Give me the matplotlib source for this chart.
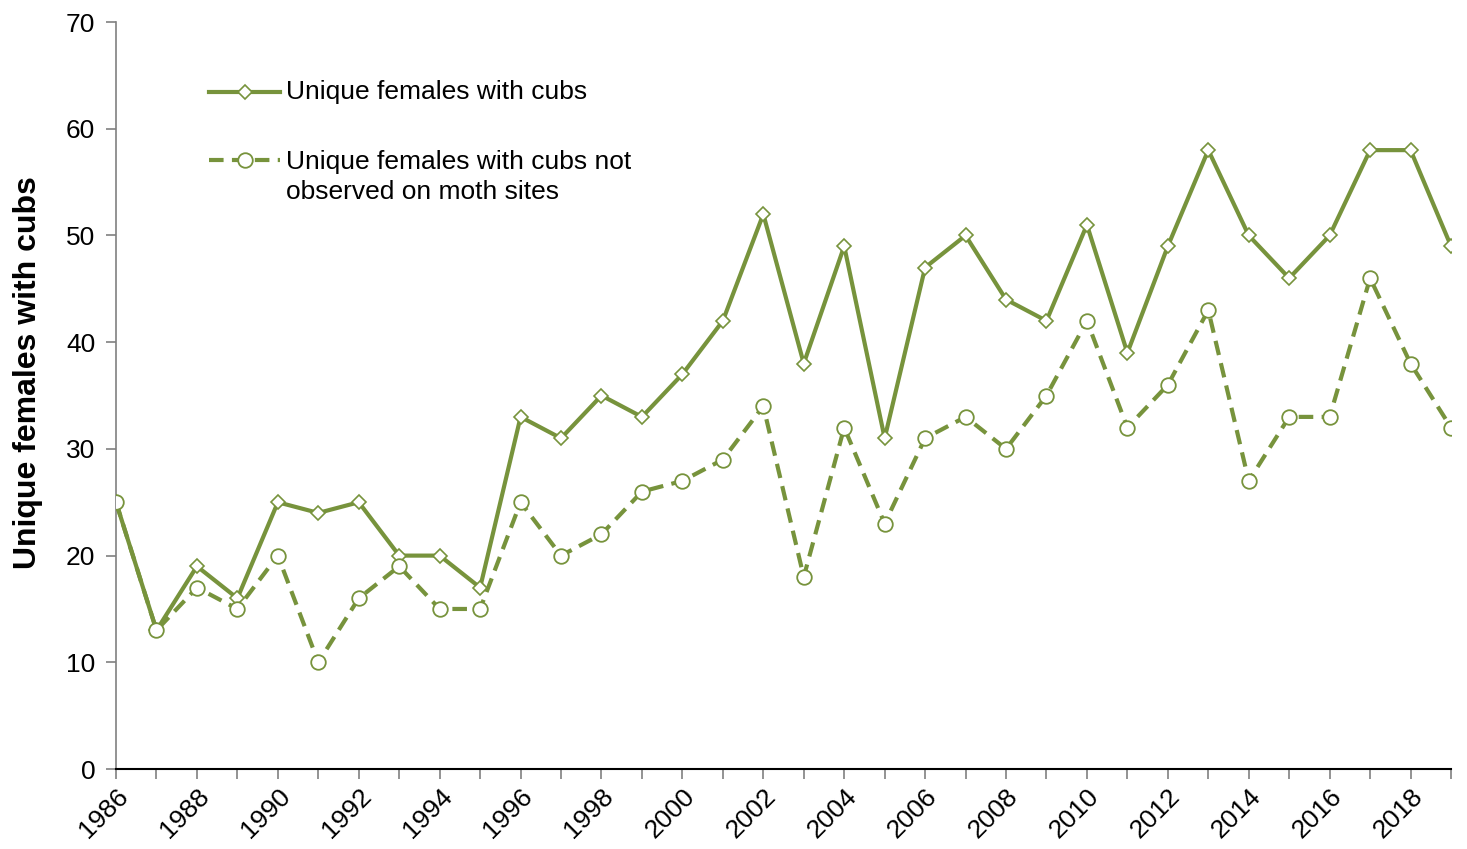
import numpy as np
import matplotlib.pyplot as plt
from matplotlib.lines import Line2D

plt.rcParams['font.family'] = ['Liberation Sans', 'DejaVu Sans']

years = list(range(1986, 2020))
all_females = [25, 13, 19, 16, 25, 24, 25, 20, 20, 17,
               33, 31, 35, 33, 37, 42, 52, 38, 49, 31,
               47, 50, 44, 42, 51, 39, 49, 58, 50, 46,
               50, 58, 58, 49]
not_moth = [25, 13, 17, 15, 20, 10, 16, 19, 15, 15,
            25, 20, 22, 26, 27, 29, 34, 18, 32, 23,
            31, 33, 30, 35, 42, 32, 36, 43, 27, 33,
            33, 46, 38, 32]
label_all = 'Unique females with cubs'
label_not = 'Unique females with cubs not\nobserved on moth sites'

green = '#77933C'
dash = (0, (3.5, 2))

fig = plt.figure(figsize=(14.67, 8.49), dpi=100)
ax = fig.add_axes([0.0791, 0.0942, 0.9100, 0.8798])

ax.plot(years, all_females, color=green, lw=3, marker='D', ms=7.5,
        mfc='white', mec=green, mew=1.2, zorder=3)
ax.plot(years, not_moth, color=green, lw=3, ls=dash, marker='o', ms=10.5,
        mfc='white', mec=green, mew=1.3, zorder=3)

ax.set_xlim(1986, 2019)
ax.set_ylim(0, 70)
ax.set_yticks(range(0, 71, 10))
ax.set_xticks(years, minor=True)
ax.set_xticks(years[::2])
ax.set_xticklabels([str(y) for y in years[::2]], rotation=45, ha='right',
                   rotation_mode='anchor')
ax.tick_params(axis='both', labelsize=19, direction='out', color='#808080',
               width=1.2, length=7)
ax.tick_params(axis='x', which='minor', direction='out', color='#808080',
               width=1.2, length=7)
ax.tick_params(axis='y', pad=8)
ax.tick_params(axis='x', pad=4)

for s in ['top', 'right']:
    ax.spines[s].set_visible(False)
ax.spines['left'].set_color('#808080')
ax.spines['bottom'].set_color('black')
ax.spines['left'].set_linewidth(1.2)
ax.spines['bottom'].set_linewidth(1.5)

ax.set_ylabel('Unique females with cubs', fontsize=23, fontweight='bold')
ax.yaxis.set_label_coords(-0.055, 0.531)

# legend drawn by hand so the handle sits on the first text line
tr = ax.transAxes
ax.add_line(Line2D([0.07, 0.123], [0.906, 0.906], transform=tr, color=green, lw=3))
ax.plot([0.0965], [0.906], transform=tr, marker='D', ms=7.5, mfc='white',
        mec=green, mew=1.2, color=green)
ax.text(0.1275, 0.906, label_all, transform=tr, fontsize=19, va='center')
ax.add_line(Line2D([0.07, 0.123], [0.815, 0.815], transform=tr, color=green, lw=3,
                   ls=dash))
ax.plot([0.0965], [0.815], transform=tr, marker='o', ms=10.5, mfc='white',
        mec=green, mew=1.3, color=green)
ax.text(0.1275, 0.829, label_not, transform=tr, fontsize=19, va='top',
        linespacing=1.3)

fig.savefig('out.png', dpi=100)
